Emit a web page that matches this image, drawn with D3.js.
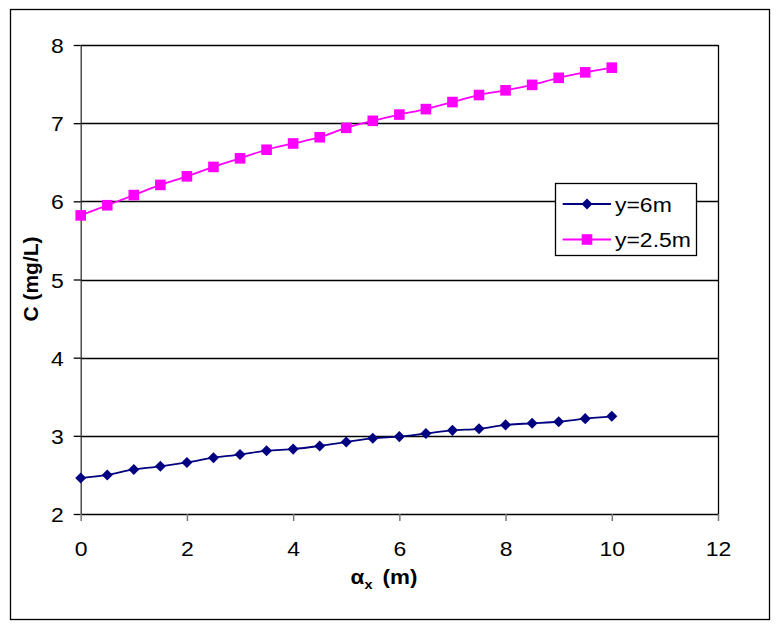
<!DOCTYPE html>
<html>
<head>
<meta charset="utf-8">
<script src="https://cdn.jsdelivr.net/npm/d3@7"></script>
<style>
  html, body { margin: 0; padding: 0; background: #fff; }
  svg { display: block; font-family: Arial, "Liberation Sans", sans-serif; }
</style>
</head>
<body>
<svg id="chart" width="780" height="630"></svg>
<script>
const xValues = [0, 0.5, 1, 1.5, 2, 2.5, 3, 3.5, 4, 4.5, 5, 5.5, 6, 6.5, 7, 7.5, 8, 8.5, 9, 9.5, 10];
const seriesY6 = [2.46, 2.50, 2.57, 2.61, 2.66, 2.72, 2.76, 2.81, 2.83, 2.87, 2.92, 2.97, 2.99, 3.03, 3.07, 3.09, 3.14, 3.16, 3.18, 3.22, 3.25];
const seriesY25 = [5.82, 5.95, 6.08, 6.21, 6.32, 6.44, 6.55, 6.66, 6.74, 6.82, 6.94, 7.03, 7.11, 7.18, 7.27, 7.36, 7.42, 7.49, 7.58, 7.65, 7.71];
const xTicks = [0, 2, 4, 6, 8, 10, 12];
const yTicks = [2, 3, 4, 5, 6, 7, 8];
const seriesNames = ["y=6m", "y=2.5m"];

const svg = d3.select("#chart");
const X0 = 80.7, X1 = 718, Y0 = 514, Y1 = 45;
const x = d3.scaleLinear().domain([0, 12]).range([X0, X1]);
const y = d3.scaleLinear().domain([2, 8]).range([Y0, Y1]);
const SX = 1.12;
const FS = "20.5px";

// outer border
svg.append("rect").attr("x", 10.5).attr("y", 9.5).attr("width", 759).attr("height", 610)
  .attr("fill", "#fff").attr("stroke", "#000").attr("stroke-width", 1.3);

// gridlines
svg.append("g").selectAll("line").data(yTicks.filter(v => v > 2)).join("line")
  .attr("x1", X0).attr("x2", X1)
  .attr("y1", d => Math.round(y(d)) + 0.5).attr("y2", d => Math.round(y(d)) + 0.5)
  .attr("stroke", "#000").attr("stroke-width", 1.3);
// right border of plot
svg.append("line").attr("x1", X1 + 0.5).attr("x2", X1 + 0.5).attr("y1", Y1).attr("y2", Y0)
  .attr("stroke", "#000").attr("stroke-width", 1.3);

// y axis
const gy = svg.append("g").attr("transform", `translate(${X0},0)`)
  .call(d3.axisLeft(y).tickValues(yTicks).tickSize(7).tickSizeOuter(0).tickFormat(d3.format("d")));
gy.select(".domain").attr("stroke", "#333").attr("stroke-width", 1.3);
gy.selectAll(".tick line").attr("stroke", "#000").attr("stroke-width", 1.3);
gy.selectAll(".tick text").attr("x", null).attr("dy", null)
  .attr("transform", `translate(-17,7.5) scale(${SX},1)`)
  .attr("text-anchor", "end").attr("font-size", FS).attr("fill", "#000")
  .style("font-family", "Arial, 'Liberation Sans', sans-serif");

// x axis
const gx = svg.append("g").attr("transform", `translate(0,${Y0})`)
  .call(d3.axisBottom(x).tickValues(xTicks).tickSize(7).tickSizeOuter(0).tickFormat(d3.format("d")));
gx.select(".domain").attr("stroke", "#000").attr("stroke-width", 1.3);
gx.selectAll(".tick line").attr("stroke", "#777").attr("stroke-width", 1.5);
gx.selectAll(".tick text").attr("y", null).attr("dy", null)
  .attr("transform", `translate(0,41.5) scale(${SX},1)`)
  .attr("font-size", FS).attr("fill", "#000")
  .style("font-family", "Arial, 'Liberation Sans', sans-serif");

// axis titles
const xt = svg.append("text").attr("transform", `translate(384,584) scale(${SX},1)`)
  .attr("text-anchor", "middle").attr("font-size", "20px").attr("font-weight", "bold").attr("fill", "#000");
xt.append("tspan").text("α");
xt.append("tspan").attr("font-size", "13px").attr("dy", 5).text("x");
xt.append("tspan").attr("dy", -5).attr("dx", 9).text("(m)");

svg.append("text").attr("transform", "translate(38,279) rotate(-90)")
  .attr("text-anchor", "middle").attr("font-size", "21px").attr("font-weight", "bold").attr("fill", "#000")
  .text("C (mg/L)");

// series
const line = d3.line().x((d, i) => x(xValues[i])).y(d => y(d)).curve(d3.curveCatmullRom.alpha(0.5));
const colors = ["#000080", "#FF00FF"];

svg.append("path").datum(seriesY6).attr("d", line).attr("fill", "none").attr("stroke", colors[0]).attr("stroke-width", 1.8);
svg.append("path").datum(seriesY25).attr("d", line).attr("fill", "none").attr("stroke", colors[1]).attr("stroke-width", 1.8);

const diamond = d3.symbol().type(d3.symbolDiamond2).size(78);
svg.append("g").selectAll("path").data(seriesY6).join("path")
  .attr("transform", (d, i) => `translate(${x(xValues[i])},${y(d)})`)
  .attr("d", diamond).attr("fill", colors[0]);
svg.append("g").selectAll("rect").data(seriesY25).join("rect")
  .attr("x", (d, i) => x(xValues[i]) - 5.3).attr("y", d => y(d) - 5.3)
  .attr("width", 10.6).attr("height", 10.6).attr("fill", colors[1]);

// legend
const lg = svg.append("g");
lg.append("rect").attr("x", 555.5).attr("y", 183.5).attr("width", 141).attr("height", 72)
  .attr("fill", "#fff").attr("stroke", "#000").attr("stroke-width", 1.3);
const rows = [204, 239.5];
seriesNames.forEach((name, i) => {
  lg.append("line").attr("x1", 562.7).attr("x2", 611).attr("y1", rows[i]).attr("y2", rows[i])
    .attr("stroke", colors[i]).attr("stroke-width", 1.8);
  if (i === 0) {
    lg.append("path").attr("transform", `translate(587,${rows[i]})`).attr("d", diamond).attr("fill", colors[i]);
  } else {
    lg.append("rect").attr("x", 587 - 5.3).attr("y", rows[i] - 5.3).attr("width", 10.6).attr("height", 10.6).attr("fill", colors[i]);
  }
  lg.append("text").attr("transform", `translate(615,${rows[i] + 7.5}) scale(${SX},1)`)
    .attr("font-size", FS).attr("fill", "#000").text(name);
});
</script>
</body>
</html>
